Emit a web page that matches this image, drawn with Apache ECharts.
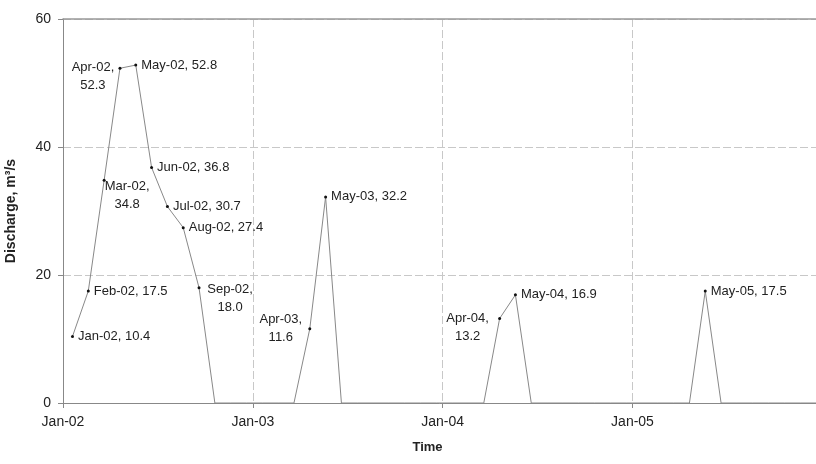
<!DOCTYPE html>
<html>
<head>
<meta charset="utf-8">
<script src="https://cdn.jsdelivr.net/npm/echarts@6/dist/echarts.min.js"></script>
<style>
  html, body { margin: 0; padding: 0; background: #fff; }
  #chart { width: 816px; height: 464px; }
</style>
</head>
<body>
<div id="chart"></div>
<script>
// monthly discharge, Jan-02 .. Dec-05
const monthNames = ['Jan','Feb','Mar','Apr','May','Jun','Jul','Aug','Sep','Oct','Nov','Dec'];
const years = ['02','03','04','05'];
const discharge2002 = [10.4, 17.5, 34.8, 52.3, 52.8, 36.8, 30.7, 27.4, 18.0, 0, 0, 0];
const discharge2003 = [0, 0, 0, 11.6, 32.2, 0, 0, 0, 0, 0, 0, 0];
const discharge2004 = [0, 0, 0, 13.2, 16.9, 0, 0, 0, 0, 0, 0, 0];
const discharge2005 = [0, 0, 0, 0, 17.5, 0, 0, 0, 0, 0, 0, 0];
const yTicks = [0, 20, 40, 60];

const months = [];
years.forEach(y => monthNames.forEach(m => months.push(m + '-' + y)));
const discharge = [].concat(discharge2002, discharge2003, discharge2004, discharge2005);

// each reading sits a little past mid-month
const dayOffset = 0.6;

// two-line labels placed by hand (offset from the point to the block centre)
const wrapped = {
  'Mar-02': [23, 15],
  'Apr-02': [-27, 8],
  'Sep-02': [31, 11],
  'Apr-03': [-29, 0],
  'Apr-04': [-32, 9]
};

const txt = '#222';
const font = 'Liberation Sans, Arial, sans-serif';
const symSize = 3;

const seriesData = discharge.map((v, i) => {
  const name = months[i];
  const item = { value: [i + dayOffset, v], name: name };
  if (v === 0) {
    item.symbol = 'none';
    item.label = { show: false };
  } else if (wrapped[name]) {
    const off = wrapped[name];
    item.label = {
      show: true,
      position: [symSize / 2 + off[0], symSize / 2 + off[1]],
      align: 'center',
      verticalAlign: 'middle',
      lineHeight: 18,
      formatter: name + ',\n' + v.toFixed(1)
    };
  } else {
    item.label = {
      show: true,
      position: 'right',
      distance: 4,
      formatter: name + ', ' + v.toFixed(1)
    };
  }
  return item;
});

const chart = echarts.init(document.getElementById('chart'), null, { renderer: 'canvas' });
chart.setOption({
  animation: false,
  backgroundColor: '#fff',
  textStyle: { fontFamily: font },
  grid: { left: 63, right: 0, top: 19, bottom: 61, containLabel: false, outerBoundsMode: 'none' },
  xAxis: [{
    type: 'value',
    min: 0,
    max: 47.6,
    interval: 12,
    name: 'Time',
    nameLocation: 'middle',
    nameGap: 38,
    nameTextStyle: { fontSize: 13, fontWeight: 'bold', color: txt, fontFamily: font, padding: [0, 24, 0, 0] },
    axisLine: { show: true, lineStyle: { color: '#888', width: 1 } },
    axisTick: { show: true, length: 5, lineStyle: { color: '#888' } },
    axisLabel: {
      fontSize: 14, color: txt, margin: 12, fontFamily: font,
      formatter: v => months[Math.round(v)] || ''
    },
    splitLine: { show: true, lineStyle: { color: '#c8c8c8', type: [8, 3], width: 1 } }
  }, {
    type: 'value',
    position: 'top',
    min: 0,
    max: 47.6,
    axisLine: { show: true, lineStyle: { color: '#999', width: 1.5 } },
    axisTick: { show: false },
    axisLabel: { show: false },
    splitLine: { show: false }
  }],
  yAxis: {
    type: 'value',
    min: yTicks[0],
    max: yTicks[yTicks.length - 1],
    interval: 20,
    name: 'Discharge, m\u00B3/s',
    nameLocation: 'middle',
    nameGap: 45,
    nameTextStyle: { fontSize: 14, fontWeight: 'bold', color: txt, fontFamily: font },
    axisLine: { show: true, lineStyle: { color: '#888', width: 1 } },
    axisTick: { show: true, length: 5, lineStyle: { color: '#888' } },
    axisLabel: { fontSize: 14, color: txt, margin: 12, fontFamily: font },
    splitLine: { show: true, lineStyle: { color: '#c8c8c8', type: [8, 3], width: 1 } }
  },
  series: [{
    type: 'line',
    xAxisIndex: 0,
    data: seriesData,
    symbol: 'circle',
    symbolSize: symSize,
    showSymbol: true,
    itemStyle: { color: '#111' },
    lineStyle: { color: '#888', width: 1 },
    label: { fontSize: 13, color: txt, fontFamily: font },
    labelLayout: { hideOverlap: false },
    z: 3
  }]
});
</script>
</body>
</html>
